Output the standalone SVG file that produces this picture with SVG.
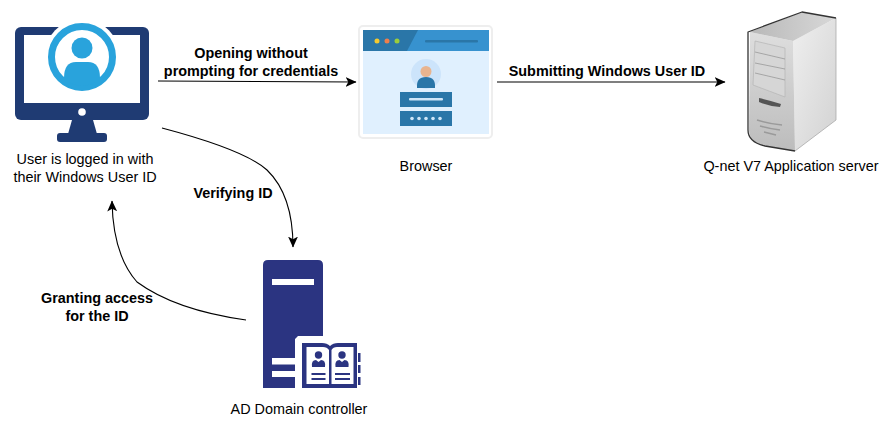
<svg xmlns="http://www.w3.org/2000/svg" width="896" height="427" viewBox="0 0 896 427">
<defs>
<marker id="arr" viewBox="0 0 10 10" refX="9.5" refY="5" markerWidth="11" markerHeight="11" markerUnits="userSpaceOnUse" orient="auto"><path d="M0 0.500L10 5L0 9.500L2.500 5Z" fill="#000"/></marker>
<linearGradient id="sf" x1="0" y1="0" x2="0" y2="1"><stop offset="0" stop-color="#dedede"/><stop offset="1" stop-color="#bcbcbc"/></linearGradient>
<linearGradient id="ss" x1="0" y1="0" x2="1" y2="1"><stop offset="0" stop-color="#efefef"/><stop offset="1" stop-color="#d2d2d2"/></linearGradient>
<linearGradient id="st" x1="0" y1="0" x2="1" y2="0"><stop offset="0" stop-color="#b8b8b8"/><stop offset="1" stop-color="#d8d8d8"/></linearGradient>
</defs>
<style>
text{font-family:"Liberation Sans",Arial,sans-serif;font-size:14.4px;fill:#000;text-anchor:middle}
.b{font-weight:bold}
.c{fill:none;stroke:#000;stroke-width:1.100;marker-end:url(#arr)}
.navy{fill:#1f3b73}.sky{fill:#29a3dc}.ad{fill:#2b3481}.dk{fill:#2a76a8}
</style>
<g id="connectors">
<path class="c" d="M158 81L356 82"/>
<path class="c" d="M497 82L725 82"/>
<path class="c" d="M162 128Q245 150 267 170Q293 195 293 247"/>
<path class="c" d="M246 320Q175 310 137 282Q113 255 112 201"/>
</g>
<g id="edge-labels">
<text class="b" x="251" y="58">Opening without</text>
<text class="b" x="251" y="76">prompting for credentials</text>
<text class="b" x="607" y="76">Submitting Windows User ID</text>
<text class="b" x="233" y="198">Verifying ID</text>
<text class="b" x="97" y="303">Granting access</text>
<text class="b" x="97" y="321">for the ID</text>
</g>
<g id="user">
<rect class="navy" x="15" y="27" width="134" height="93" rx="6"/>
<rect x="24" y="35" width="116" height="68" fill="#fff"/>
<path class="navy" d="M72 120H93L97 134H68Z"/>
<rect class="navy" x="57" y="133" width="50" height="9" rx="3"/>
<circle cx="82" cy="112" r="3.800" fill="#fff"/>
<circle cx="82" cy="57" r="38" fill="#fff"/>
<circle cx="82" cy="57" r="30.500" fill="#fff" stroke="#29a3dc" stroke-width="7"/>
<circle class="sky" cx="82" cy="48" r="10.500"/>
<path class="sky" d="M64 78Q64 62 76 62H88Q100 62 100 78Q92 86 82 86Q72 86 64 78Z"/>
<text x="85" y="164">User is logged in with</text>
<text x="85" y="182">their Windows User ID</text>
</g>
<g id="browser">
<rect x="359" y="26" width="133" height="112" rx="4" fill="#fff" stroke="#eeeeee" stroke-width="2"/>
<rect x="363" y="30" width="126" height="104" fill="#e0f0fe"/>
<rect x="363" y="30" width="126" height="21" fill="#3792cf"/>
<path class="dk" d="M363 30H418L407 51H363Z"/>
<circle cx="377" cy="41" r="2.500" fill="#f4c92f"/>
<circle cx="387" cy="41" r="2.500" fill="#ee7f4b"/>
<circle cx="397" cy="41" r="2.500" fill="#9ccc3c"/>
<rect class="dk" x="425" y="40" width="53" height="2.500" rx="1"/>
<circle cx="426" cy="74" r="15" fill="#cce4fb"/>
<circle cx="426" cy="71.500" r="5.500" fill="#e8b48f"/>
<path class="dk" d="M417 88Q416 77 426 77Q436 77 435 88Z"/>
<rect class="dk" x="400" y="92" width="52" height="15"/>
<rect x="409" y="98" width="34" height="2.500" rx="1" fill="#cfe6f8"/>
<rect class="dk" x="400" y="111" width="52" height="15"/>
<g fill="#cfe6f8"><circle cx="412" cy="118.500" r="1.800"/><circle cx="419" cy="118.500" r="1.800"/><circle cx="426" cy="118.500" r="1.800"/><circle cx="433" cy="118.500" r="1.800"/><circle cx="440" cy="118.500" r="1.800"/></g>
<text x="426" y="171">Browser</text>
</g>
<g id="server">
<path d="M793 41L836 18V120L795 151Z" fill="url(#ss)"/>
<path d="M750 32L793 41L795 151L765 146Q749 142 749 130Z" fill="url(#sf)"/>
<path d="M750 32L802 12L836 18L793 41Z" fill="url(#st)"/>
<path d="M836 18V120L795 151" fill="none" stroke="#aaa" stroke-width=".8"/>
<path d="M795 151L765 146Q748 142 748 130V32L802 12L836 18" fill="none" stroke="#333" stroke-width="1.300" stroke-linejoin="round"/>
<path d="M755 41L785 48V97L753 85Z" fill="#d6d6d6" stroke="#b5b5b5" stroke-width=".7"/>
<path d="M755 52L785 59M755 63L785 69M755 73L785 80" stroke="#909090" stroke-width=".7" fill="none"/>
<path d="M759 98Q772 101 781 104L780 107Q768 106 759 102Z" fill="#555"/>
<path d="M757 120Q770 124 782 125M760 126Q770 129 780 130M764 132Q772 134 776 135" fill="none" stroke="#9a9a9a" stroke-width="1.500"/>
<text x="791" y="171">Q-net V7 Application server</text>
</g>
<g id="ad">
<path class="ad" d="M263 265Q263 260 268 260H318Q323 260 323 265V336H298L295 339V388H263Z"/>
<rect x="272" y="279" width="42" height="6" fill="#fff"/>
<rect x="272" y="358" width="24" height="6.500" fill="#fff"/>
<rect x="272" y="371" width="24" height="6" fill="#fff"/>
<path class="ad" d="M302 343H322Q327 343 330 346Q333 343 338 343H357V388H302Z"/>
<path d="M306.500 347H323Q327 347 329 350V384H306.500ZM331.500 350Q333 347 337 347H353.500V384H331.500Z" fill="#fff"/>
<rect class="ad" x="358" y="353" width="2.500" height="9"/><rect class="ad" x="358" y="365" width="2.500" height="8"/><rect class="ad" x="358" y="377" width="2.500" height="8"/>
<g class="ad">
<circle cx="318.500" cy="355" r="3.700"/><circle cx="342" cy="355" r="3.700"/>
<path d="M312 367Q311 360 316 360L318.500 362L321 360Q326 360 325 367ZM335.500 367Q334.500 360 339.500 360L342 362L344.500 360Q349.500 360 348.500 367Z"/>
<rect x="311.500" y="373" width="14" height="2"/><rect x="311.500" y="378" width="14" height="2"/><rect x="335" y="373" width="15" height="2"/><rect x="335" y="378" width="15" height="2"/>
</g>
<text x="299" y="414">AD Domain controller</text>
</g>
</svg>
